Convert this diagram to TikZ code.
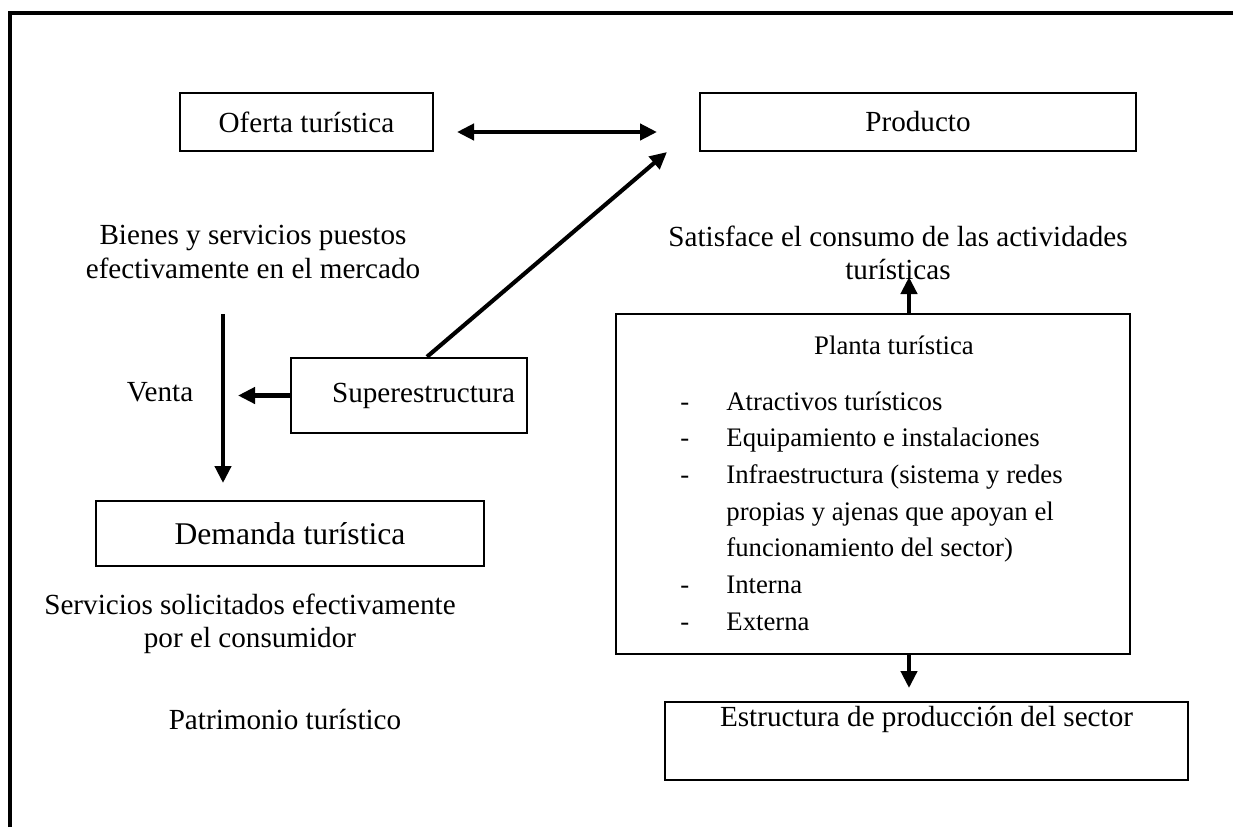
\documentclass[tikz,border=0pt]{standalone}
\usepackage{fontspec}
\setmainfont{Liberation Serif}
\usetikzlibrary{arrows.meta,calc}

\newdimen\pxu
\pxu=0.4115pt

\tikzset{
    box/.style={draw, line width=1pt, rectangle, inner sep=0pt},
    arr/.style={line width=1.7pt, -{Triangle[length=7pt,width=6.6pt]}},
    dblarr/.style={line width=1.7pt, {Triangle[length=7pt,width=6.6pt]}-{Triangle[length=7pt,width=6.6pt]}},
}

\begin{document}
\begin{tikzpicture}[x=0.4115pt, y=-0.4115pt, font=\fontsize{12}{13.8}\selectfont]
    \useasboundingbox (0,0) rectangle (1233,827);

    % the frame round the page
    \draw[line width=1.4pt] (10,827) -- (10,13) -- (1233,13);

    % draw the boxes
    \node[box, minimum width=253\pxu, minimum height=58\pxu] (oferta) at (306.5,122) {Oferta turística};
    \node[box, minimum width=436\pxu, minimum height=58\pxu] (producto) at (918,122) {Producto};
    \node[box, minimum width=236\pxu, minimum height=75\pxu] (superestr) at (409,395.5) {\hspace*{12pt}Superestructura};
    \node[box, minimum width=388\pxu, minimum height=65\pxu, font=\fontsize{13}{15}\selectfont] (demanda) at (290,533.5) {Demanda turística};
    \node[box, minimum width=514\pxu, minimum height=340\pxu] (planta) at (873,484) {};
    \node[box, minimum width=523\pxu, minimum height=78\pxu, text depth=20pt] (estructura) at (926.5,741) {Estructura de producción del sector};

    % the texts
    \node[align=center] (bienes) at (253,252) {Bienes y servicios puestos\\efectivamente en el mercado};
    \node[align=center] (satisface) at (898,253) {Satisface el consumo de las actividades\\turísticas};
    \node (venta) at (160,392) {Venta};
    \node[align=center] (servicios) at (250,624) {Servicios solicitados efectivamente\\por el consumidor};
    \node (patrimonio) at (285,719) {Patrimonio turístico};

    % inside the planta box
    \node[font=\fontsize{11}{15.1}\selectfont] (plantatit) at (894,345) {Planta turística};
    \node[anchor=base west, inner sep=0pt, font=\fontsize{11}{15.1}\selectfont] (plantalist) at (680,410) {%
        \begin{tabular}[t]{@{}p{18.9pt}@{}l@{}}
        - & Atractivos turísticos\\
        - & Equipamiento e instalaciones\\
        - & Infraestructura (sistema y redes\\
          & propias y ajenas que apoyan el\\
          & funcionamiento del sector)\\
        - & Interna\\
        - & Externa
        \end{tabular}};

    % the free ends of the arrows
    \coordinate (ofl) at (457,132);
    \coordinate (ofr) at (657,132);
    \coordinate (prodtip) at (667,152);
    \coordinate (ventatip) at (238,395.5);
    \coordinate (vtop) at (223,314);
    \coordinate (vbot) at (223,483);
    \coordinate (plup) at (909,277);
    \coordinate (pldown) at (909,688);

    % draw the arrows
    \draw[dblarr] (ofl) -- (ofr);
    \draw[arr] ($(superestr.north)+(18,0)$) -- (prodtip);
    \draw[arr] (superestr.west) -- (ventatip);
    \draw[arr] (vtop) -- (vbot);
    \draw[arr] (planta.north -| plup) -- (plup);
    \draw[arr] (planta.south -| pldown) -- (pldown);

\end{tikzpicture}
\end{document}
